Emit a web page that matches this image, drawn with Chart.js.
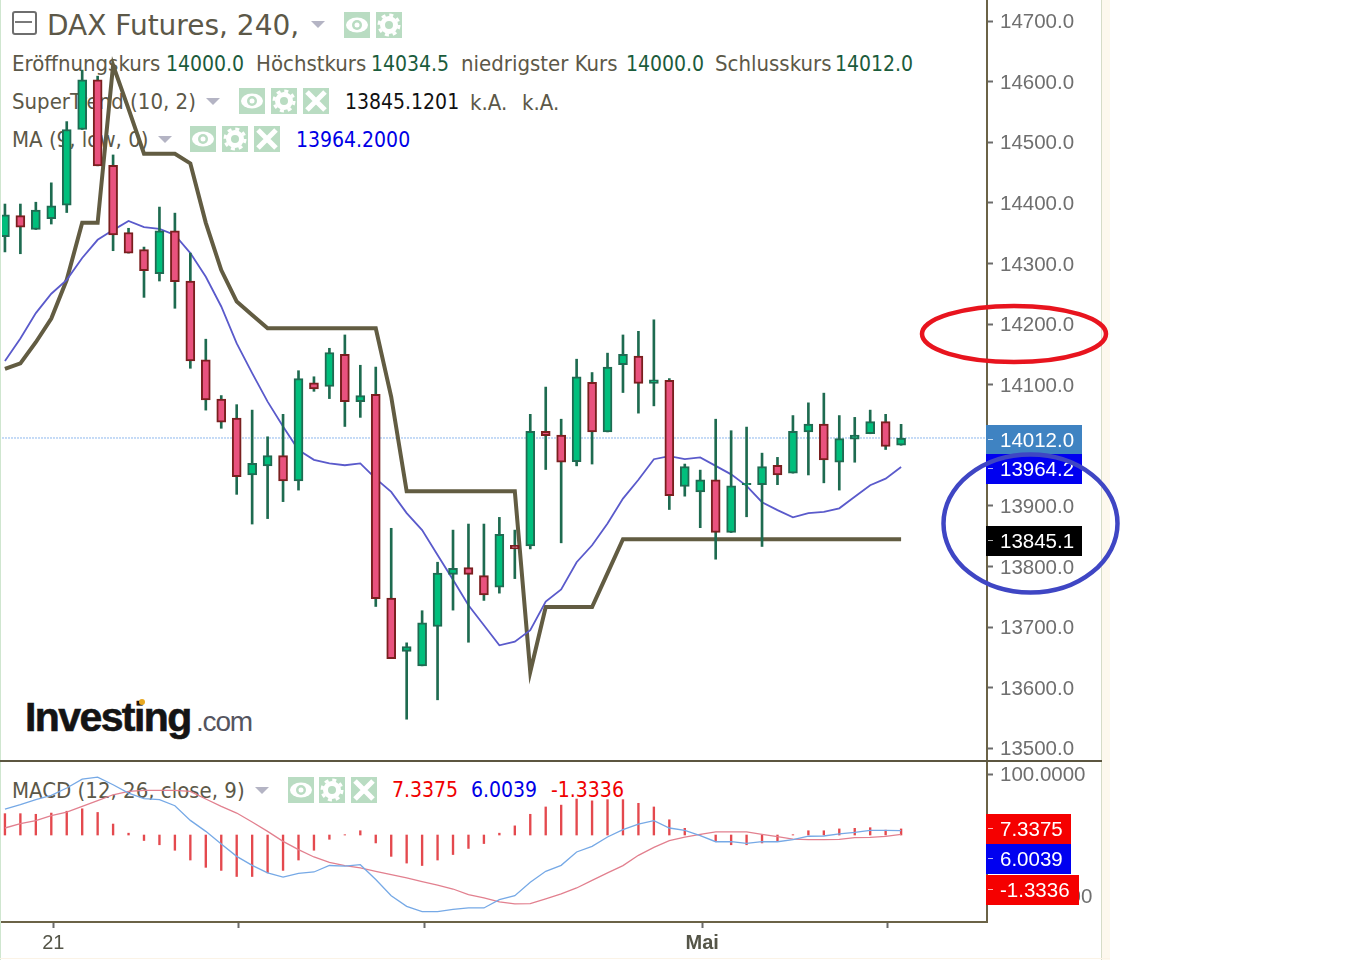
<!DOCTYPE html>
<html lang="de">
<head>
<meta charset="UTF-8">
<title>DAX Futures, 240</title>
<script src="https://cdnjs.cloudflare.com/ajax/libs/Chart.js/4.4.1/chart.umd.min.js"></script>
<style>
  html, body { margin: 0; padding: 0; background: #fff; }
  #page { position: relative; width: 1353px; height: 960px; overflow: hidden; background: #fff; }
  #page canvas { position: absolute; left: 0; z-index: 2; }
  .t { position: absolute; white-space: nowrap; line-height: 1; z-index: 1; color: #5c5848;
       font-family: "DejaVu Sans Condensed", "DejaVu Sans", sans-serif; font-stretch: condensed; font-size: 22px; }
  .v { font-size: 21px; }
  .tri { position: absolute; width: 0; height: 0; border-left: 7px solid transparent; border-right: 7px solid transparent;
         border-top: 7px solid #b4b4c4; z-index: 1; }
  .ic { position: absolute; z-index: 1; background: #b9dcc2; }
  .rule { position: absolute; z-index: 3; background: #5c5640; }
  .edge { position: absolute; z-index: 0; }
</style>
</head>
<body>
<div id="page">
  <div class="edge" style="left:0;top:0;width:1px;height:960px;background:#cfe6cf"></div>
  <div class="edge" style="left:1101px;top:0;width:1px;height:960px;background:#d6dcc8"></div>
  <div class="edge" style="left:1102px;top:0;width:8px;height:960px;background:#fdf8ee"></div>
  <div class="edge" style="left:0;top:958px;width:1110px;height:1px;background:#fbf3e6"></div>
  <div class="rule" style="left:0;top:760px;width:1102px;height:2px"></div>

  <div style="position:absolute;left:12px;top:11px;width:21px;height:20px;border:2px solid #6e6e6e;border-radius:3px;z-index:1"></div>
  <div style="position:absolute;left:15px;top:21px;width:17px;height:2px;background:#7a7a7a;z-index:1"></div>

  <span class="t" style="left:47px;top:12px;font-family:'DejaVu Sans',sans-serif;font-stretch:normal;font-size:28px">DAX Futures, 240,</span>
  <div class="tri" style="left:311px;top:21px"></div>

  <span class="t" style="left:12px;top:53px">Eröffnungskurs</span>
  <span class="t v" style="left:166px;top:54px;color:#1b5c3c">14000.0</span>
  <span class="t" style="left:256px;top:53px">Höchstkurs</span>
  <span class="t v" style="left:371px;top:54px;color:#1b5c3c">14034.5</span>
  <span class="t" style="left:461px;top:53px">niedrigster Kurs</span>
  <span class="t v" style="left:626px;top:54px;color:#1b5c3c">14000.0</span>
  <span class="t" style="left:715px;top:53px">Schlusskurs</span>
  <span class="t v" style="left:835px;top:54px;color:#1b5c3c">14012.0</span>

  <span class="t" style="left:12px;top:91px">SuperTrend (10, 2)</span>
  <div class="tri" style="left:206px;top:98px"></div>
  <span class="t v" style="left:345px;top:92px;color:#111">13845.1201</span>
  <span class="t" style="left:470px;top:92px">k.A.</span>
  <span class="t" style="left:522px;top:92px">k.A.</span>

  <span class="t" style="left:12px;top:129px">MA (9, low, 0)</span>
  <div class="tri" style="left:158px;top:136px"></div>
  <span class="t v" style="left:296px;top:130px;color:#0000e6">13964.2000</span>

  <span class="t" style="left:12px;top:780px">MACD (12, 26, close, 9)</span>
  <div class="tri" style="left:255px;top:787px"></div>
  <span class="t v" style="left:392px;top:780px;color:#f00000">7.3375</span>
  <span class="t v" style="left:471px;top:780px;color:#0000e6">6.0039</span>
  <span class="t v" style="left:551px;top:780px;color:#f00000">-1.3336</span>

  <span class="t" style="left:25px;top:697px;font-family:'Liberation Sans',sans-serif;font-stretch:normal;font-weight:bold;font-size:41px;letter-spacing:-1.6px;color:#141414;-webkit-text-stroke:0.6px #141414">Investing</span>
  <span class="t" style="left:196px;top:708px;font-family:'Liberation Sans',sans-serif;font-stretch:normal;font-size:28px;letter-spacing:-1.2px;color:#55555f">.com</span>
  <div style="position:absolute;left:139px;top:699px;width:6px;height:6px;border-radius:3px;background:#e8a820;z-index:1"></div>

  <canvas id="mainChart" width="1353" height="760" style="top:0"></canvas>
  <canvas id="macdChart" width="1353" height="198" style="top:762px"></canvas>
</div>

<script>
// candles
const opens  = [14344,14379,14356,14374,14396,14521,14603,14462,14351,14323,14283,14354,14271,14141,14076,14045,13951,13966,13983,13941,14103,14097,14150,14072,14084,13748,13660,13636,13701,13787,13798,13785,13766,13835,13834,14023,14017,13973,14104,14022,14133,14147,14102,14107,13932,13923,13943,13856,13935,13935,13967,13954,14022,14035,13972,14010,14019,14039,14000];
const highs  = [14398,14398,14401,14433,14534,14619,14609,14479,14358,14327,14393,14383,14317,14175,14082,14067,14058,14014,14051,14123,14113,14160,14182,14132,14129,13863,13674,13727,13807,13860,13870,13870,13881,13860,14051,14096,14043,14142,14120,14152,14182,14188,14207,14110,13969,13959,14043,14024,14030,13987,13980,14049,14070,14086,14049,14046,14058,14051,14034.5];
const lows   = [14319,14316,14356,14365,14384,14521,14461,14321,14317,14244,14271,14226,14127,14058,14028,13919,13870,13879,13907,13926,14089,14077,14031,14046,13734,13648,13548,13636,13580,13728,13675,13744,13756,13780,13829,13960,13839,13966,13969,14022,14087,14053,14065,13894,13916,13864,13812,13856,13882,13833,13935,13954,13951,13938,13926,13972,14019,13993,14000];
const closes = [14380,14360,14388,14395,14521,14603,14461,14347,14317,14288,14354,14270,14139,14075,14038,13948,13970,13983,13941,14110,14093,14153,14072,14082,13747,13648,13668,13707,13789,13797,13787,13753,13853,13829,14023,14016,13972,14113,14022,14129,14150,14102,14108,13917,13965,13943,13856,13933,13937,13965,13951,14023,14035,13976,14011,14017,14039,13998,14012];

const superTrend = [14126,14135,14170,14209,14273,14367,14367,14627,14555,14481,14481,14481,14465,14367,14289,14237,14215,14193,14193,14193,14193,14193,14193,14193,14193,14080,13924,13924,13924,13924,13924,13924,13924,13924,13626,13733,13733,13733,13733,13789,13845.1,13845.1,13845.1,13845.1,13845.1,13845.1,13845.1,13845.1,13845.1,13845.1,13845.1,13845.1,13845.1,13845.1,13845.1,13845.1,13845.1,13845.1,13845.1];
const maLow = [14139,14176,14218,14250,14273,14309,14339,14355,14370,14360,14357,14347,14317,14278,14229,14168,14119,14072,14031,13992,13976,13970,13967,13970,13945,13923,13888,13860,13819,13778,13736,13703,13670,13676,13695,13742,13762,13807,13835,13871,13912,13943,13977,13982,13977,13980,13966,13952,13933,13906,13893,13881,13888,13890,13896,13915,13934,13945,13964.2];

// MACD panel
const macdLine = [42.6,49.7,57.9,65,77,91.7,95,82.4,68.8,59.5,57.9,48,24,6,-14.7,-35,-49.7,-62,-69,-63,-60.6,-50,-51,-48.6,-73,-99.5,-117,-125.6,-125.6,-122,-119.6,-119.6,-106,-99.4,-77.5,-59.5,-49.7,-27.8,-18.6,-3.3,8.7,18,23.5,11.5,7.6,-1,-11,-11,-13.7,-11,-11,-7.6,-2,-1.6,2,4.4,7.6,7.6,7.3375];
const signalLine = [11.5,18.6,23.5,31.7,37.7,47,56.2,66,71.5,73.2,73.2,73.2,71.5,59,47,36,21.3,6,-10.4,-24,-36,-44.8,-50.2,-54,-59.5,-65,-70.4,-76.4,-82,-88.5,-97.7,-103,-109.7,-113,-112.5,-104.8,-96.6,-86.8,-74.3,-62,-50.2,-33.3,-20.2,-9.3,-3.3,1,5,5,5,1,-2.7,-6.6,-7.6,-7.6,-7,-4.4,-3.8,-2.2,1.1];
const histogram = [35,35,34,36,39,43,37,18,3,-9,-16,-25,-41,-53,-58,-68,-68,-62,-58,-41,-25,-7,0.5,7,-13,-35,-46,-50,-41,-32,-22,-14,3,15,34,46,49,59,56,58,58,52,46,25,11,0.5,-11,-16,-16,-13,-10,0.5,7,7,10,11,12,8,10];

// axes
const priceTicks = [14700,14600,14500,14400,14300,14200,14100,13900,13800,13700,13600,13500];
const macdTicks = [100,-100];
const timeTicks = [3.13,15.13,27.13,45.13,57.13];
const timeLabels = ['21','','','Mai',''];
const lastClose = 14012;
const priceTags = [
  { text: '14012.0', value: 14012, bg: '#3f83c2' },
  { text: '13964.2', value: 13964.2, bg: '#0000f0' },
  { text: '13845.1', value: 13845.1, bg: '#000000' }
];
const macdTags = [
  { text: '7.3375', top: 52, right: 1071, bg: '#f50000' },
  { text: '6.0039', top: 82, right: 1071, bg: '#0000f0' },
  { text: '-1.3336', top: 113, right: 1079, bg: '#f50000' }
];

const indexes = opens.map((_, i) => i);
const xMin = -0.19, xMax = 63.56;
const axisFont = { family: 'Liberation Sans', size: 20.5 };
const axisColor = '#6b6347';
const tagFont = '20.5px "Liberation Sans"';

function drawTag(ctx, text, top, right, bg) {
  ctx.fillStyle = bg;
  ctx.fillRect(986, top, right - 986, 30);
  ctx.fillStyle = 'rgba(255,255,255,0.7)';
  ctx.fillRect(988, top + 14, 5, 1);
  ctx.fillStyle = '#fff';
  ctx.font = tagFont;
  ctx.textAlign = 'left';
  ctx.textBaseline = 'middle';
  ctx.fillText(text, 1000, top + 16);
}

const priceOverlay = {
  id: 'priceOverlay',
  afterDraw(chart) {
    const ctx = chart.ctx, y = chart.scales.y;
    ctx.save();
    priceTags.forEach(t => {
      drawTag(ctx, t.text, Math.round(y.getPixelForValue(t.value)) - 13, 1082, t.bg);
    });
    ctx.lineWidth = 4.5;
    ctx.strokeStyle = '#e8141e';
    ctx.beginPath();
    ctx.ellipse(1014, 334, 92, 28, 0, 0, Math.PI * 2);
    ctx.stroke();
    ctx.strokeStyle = '#3f46c4';
    ctx.beginPath();
    ctx.ellipse(1030.5, 523.5, 87, 69, 0, 0, Math.PI * 2);
    ctx.stroke();
    ctx.restore();
  }
};

const macdOverlay = {
  id: 'macdOverlay',
  afterDraw(chart) {
    const ctx = chart.ctx;
    ctx.save();
    macdTags.forEach(t => drawTag(ctx, t.text, t.top, t.right, t.bg));
    ctx.restore();
  }
};

function yAxis(min, max, ticks, digits) {
  return {
    position: 'right', min: min, max: max,
    afterFit: s => { s.width = 115; s.paddingTop = 0; s.paddingBottom = 0; },
    afterBuildTicks: s => { s.ticks = ticks.map(v => ({ value: v })); },
    border: { color: axisColor, width: 2 },
    grid: { drawOnChartArea: false, drawTicks: true, tickLength: 6, color: '#6b6b6b', tickWidth: 2 },
    ticks: { color: '#6f6f6f', font: axisFont, padding: 7, labelOffset: 1.5, callback: v => v.toFixed(digits) }
  };
}

new Chart(document.getElementById('mainChart'), {
  type: 'bar',
  data: {
    datasets: [
      { type: 'line', order: 5, data: [{ x: xMin, y: lastClose }, { x: xMax, y: lastClose }],
        borderColor: '#8db8ee', borderWidth: 1, borderDash: [2, 1], pointRadius: 0 },
      { type: 'line', order: 4, data: indexes.map(i => ({ x: i, y: superTrend[i] })),
        borderColor: '#625c42', borderWidth: 4, pointRadius: 0, tension: 0 },
      { type: 'line', order: 3, data: indexes.map(i => ({ x: i, y: maLow[i] })),
        borderColor: '#5a5acb', borderWidth: 1.8, pointRadius: 0, tension: 0 },
      { order: 2, data: indexes.map(i => ({ x: i, y: [lows[i], highs[i]] })),
        backgroundColor: '#1e6b50', barThickness: 2, grouped: false },
      { order: 1, data: indexes.map(i => ({ x: i, y: [opens[i], closes[i]] })),
        backgroundColor: indexes.map(i => closes[i] >= opens[i] ? '#00bf7c' : '#e9527e'),
        borderColor: indexes.map(i => closes[i] >= opens[i] ? '#1f6b52' : '#7a1f1f'),
        borderWidth: 2, borderSkipped: false, barThickness: 9, grouped: false }
    ]
  },
  options: {
    responsive: false, animation: false, devicePixelRatio: 1,
    layout: { padding: { left: 2, right: 251, top: 0, bottom: 0 } },
    plugins: { legend: { display: false }, tooltip: { enabled: false } },
    scales: {
      x: { type: 'linear', display: false, offset: false, min: xMin, max: xMax },
      y: yAxis(13480.7, 14734.65, priceTicks, 1)
    }
  },
  plugins: [priceOverlay]
});

new Chart(document.getElementById('macdChart'), {
  type: 'bar',
  data: {
    datasets: [
      { type: 'line', order: 2, data: indexes.map(i => ({ x: i, y: signalLine[i] })),
        borderColor: '#e2808f', borderWidth: 1.3, pointRadius: 0, tension: 0 },
      { type: 'line', order: 1, data: indexes.map(i => ({ x: i, y: macdLine[i] })),
        borderColor: '#76a9e6', borderWidth: 1.3, pointRadius: 0, tension: 0 },
      { order: 3, data: indexes.map(i => ({ x: i, y: histogram[i] })),
        backgroundColor: '#e4494e', barThickness: 1.7 }
    ]
  },
  options: {
    responsive: false, animation: false, devicePixelRatio: 1,
    layout: { padding: { left: 2, right: 251, top: 0, bottom: 0 } },
    plugins: { legend: { display: false }, tooltip: { enabled: false } },
    scales: {
      x: {
        type: 'linear', offset: false, min: xMin, max: xMax,
        afterFit: s => { s.height = 38; },
        afterBuildTicks: s => { s.ticks = timeTicks.map(v => ({ value: v })); },
        border: { color: axisColor, width: 2 },
        grid: { offset: false, drawOnChartArea: false, tickLength: 6, color: '#6b6b6b', tickWidth: 2 },
        ticks: {
          maxRotation: 0, autoSkip: false, color: '#555548', padding: 3,
          font: ctx => ({ family: 'Liberation Sans', size: 20, weight: ctx.tick && ctx.tick.value === timeTicks[3] ? 'bold' : 'normal' }),
          callback: v => timeLabels[timeTicks.indexOf(v)]
        }
      },
      y: yAxis(-142.6, 119.7, macdTicks, 4)
    }
  },
  plugins: [macdOverlay]
});

// small toolbar buttons next to the legend rows
const icons = [
  ['eye',344,12],['gear',376,12],
  ['eye',239,88],['gear',271,88],['x',303,88],
  ['eye',190,126],['gear',222,126],['x',254,126],
  ['eye',288,777],['gear',319,777],['x',351,777]
];
const glyphs = {
  eye: '<ellipse cx="13" cy="13" rx="11" ry="7.5" fill="#fff"/><circle cx="13" cy="13" r="5" fill="#b9dcc2"/><circle cx="13" cy="13" r="2.5" fill="#fff"/>',
  gear: '<circle cx="13" cy="13" r="6.5" fill="none" stroke="#fff" stroke-width="5"/><circle cx="13" cy="13" r="10" fill="none" stroke="#fff" stroke-width="3" stroke-dasharray="4 3.85"/>',
  x: '<path d="M4 4L22 22M22 4L4 22" stroke="#fff" stroke-width="5"/>'
};
icons.forEach(([kind, left, top]) => {
  const d = document.createElement('div');
  d.className = 'ic';
  d.style.cssText = 'left:' + left + 'px;top:' + top + 'px;width:26px;height:26px';
  d.innerHTML = '<svg width="26" height="26" style="display:block">' + glyphs[kind] + '</svg>';
  document.getElementById('page').appendChild(d);
});
</script>
</body>
</html>
